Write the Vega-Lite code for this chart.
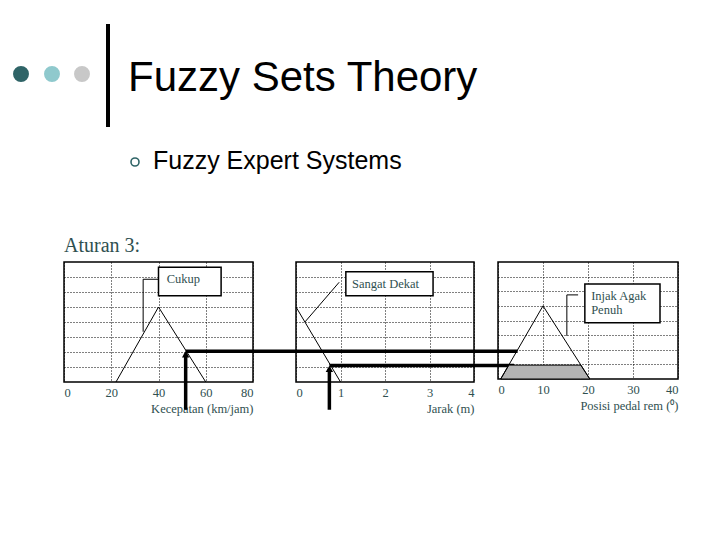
{
  "$schema": "https://vega.github.io/schema/vega-lite/v6.json",
  "background": "white",
  "padding": 0,
  "bounds": "flush",
  "spacing": 6,
  "config": {
    "view": {"stroke": null},
    "axis": {
      "grid": true,
      "gridDash": [1, 2],
      "gridColor": "#000000",
      "gridOpacity": 1,
      "gridWidth": 1,
      "domain": false,
      "ticks": false,
      "labelFont": "Liberation Serif",
      "labelFontSize": 12.5,
      "labelColor": "#2f5050",
      "labelPadding": 4,
      "titleFont": "Liberation Serif",
      "titleFontSize": 12.5,
      "titleFontWeight": "normal",
      "titleColor": "#2f5050",
      "titlePadding": 4
    }
  },
  "vconcat": [
    {
      "width": 720,
      "height": 256,
      "encoding": {
        "x": {"field": "x", "type": "quantitative", "scale": {"domain": [0, 720], "nice": false, "zero": false}, "axis": null},
        "y": {"field": "y", "type": "quantitative", "scale": {"domain": [0, 256], "nice": false, "reverse": true}, "axis": null}
      },
      "layer": [
        {
          "data": {"values": [{"x": 108, "y": 24, "y2": 127}]},
          "mark": {"type": "rule", "color": "black", "strokeWidth": 4},
          "encoding": {"y2": {"field": "y2"}}
        },
        {
          "data": {"values": [{"x": 21, "y": 74, "dot": "dark"}, {"x": 52, "y": 74, "dot": "mid"}, {"x": 82, "y": 74, "dot": "light"}]},
          "mark": {"type": "point", "filled": true, "opacity": 1, "size": 254, "shape": "circle"},
          "encoding": {"color": {"field": "dot", "type": "nominal", "scale": {"domain": ["dark", "mid", "light"], "range": ["#2f6467", "#8fc9cd", "#c8c8c8"]}, "legend": null}}
        },
        {
          "data": {"values": [{"x": 128, "y": 91, "text": "Fuzzy Sets Theory"}]},
          "mark": {"type": "text", "align": "left", "baseline": "alphabetic", "font": "Liberation Sans", "fontSize": 42, "color": "black"},
          "encoding": {"text": {"field": "text"}}
        },
        {
          "data": {"values": [{"x": 135, "y": 162}]},
          "mark": {"type": "point", "filled": false, "shape": "circle", "size": 64, "color": "#2f6467", "strokeWidth": 1.6, "opacity": 1}
        },
        {
          "data": {"values": [{"x": 153, "y": 169, "text": "Fuzzy Expert Systems"}]},
          "mark": {"type": "text", "align": "left", "baseline": "alphabetic", "font": "Liberation Sans", "fontSize": 25, "color": "black"},
          "encoding": {"text": {"field": "text"}}
        },
        {
          "data": {"values": [{"x": 64, "y": 252, "text": "Aturan 3:"}]},
          "mark": {"type": "text", "align": "left", "baseline": "alphabetic", "font": "Liberation Serif", "fontSize": 20, "color": "#2f5050"},
          "encoding": {"text": {"field": "text"}}
        }
      ]
    },
    {
      "hconcat": [
        {
          "width": 21,
          "height": 120,
          "data": {"values": []},
          "mark": "point"
        },
        {
          "width": 189,
          "height": 120,
          "view": {"stroke": "black", "strokeWidth": 1.5},
          "encoding": {
            "x": {"field": "x", "type": "quantitative", "scale": {"domain": [0, 80], "nice": false, "zero": false}, "axis": {"values": [0, 20, 40, 60, 80], "title": "Kecepatan (km/jam)", "titleAnchor": "end"}},
            "y": {"field": "mu", "type": "quantitative", "scale": {"domain": [0, 1.6], "nice": false}, "axis": {"values": [0.2, 0.4, 0.6, 0.8, 1, 1.2, 1.4], "labels": false, "title": null}}
          },
          "layer": [
            {
              "data": {"values": [{"x": 22, "mu": 0}, {"x": 40, "mu": 1}, {"x": 60, "mu": 0}]},
              "mark": {"type": "line", "color": "black", "strokeWidth": 1}
            },
            {
              "data": {"values": [{"i": 1, "x": 40, "mu": 1.37}, {"i": 2, "x": 33.5, "mu": 1.37}, {"i": 3, "x": 33.5, "mu": 0.67}]},
              "mark": {"type": "line", "color": "black", "strokeWidth": 1},
              "encoding": {"order": {"field": "i"}}
            },
            {
              "data": {"values": [{"x": 40, "x2": 66.5, "mu": 1.15, "mu2": 1.53}]},
              "mark": {"type": "rect", "fill": "white", "stroke": "black", "strokeWidth": 1.5},
              "encoding": {"x2": {"field": "x2"}, "y2": {"field": "mu2"}}
            },
            {
              "data": {"values": [{"x": 43.5, "mu": 1.37, "label": "Cukup"}]},
              "mark": {"type": "text", "align": "left", "baseline": "middle", "font": "Liberation Serif", "fontSize": 12.5, "color": "#2f5050"},
              "encoding": {"text": {"field": "label"}}
            },
            {
              "data": {"values": [{"x": 51.5, "x2": 51.5, "mu": -0.37, "mu2": 0.38}, {"x": 51.5, "x2": 192, "mu": 0.41, "mu2": 0.41}]},
              "mark": {"type": "rule", "color": "black", "strokeWidth": 3.5},
              "encoding": {"x2": {"field": "x2"}, "y2": {"field": "mu2"}}
            },
            {
              "data": {"values": [{"x": 51.5, "mu": 0.37}]},
              "mark": {"type": "point", "shape": "triangle-up", "filled": true, "opacity": 1, "size": 55, "color": "black"}
            }
          ]
        },
        {
          "spacing": 24,
          "bounds": "flush",
          "hconcat": [
            {
              "width": 178,
              "height": 120,
              "view": {"stroke": "black", "strokeWidth": 1.5},
              "encoding": {
                "x": {"field": "x", "type": "quantitative", "scale": {"domain": [0, 4], "nice": false, "zero": false}, "axis": {"values": [0, 1, 2, 3, 4], "title": "Jarak (m)", "titleAnchor": "end"}},
                "y": {"field": "mu", "type": "quantitative", "scale": {"domain": [0, 1.6], "nice": false}, "axis": {"values": [0.2, 0.4, 0.6, 0.8, 1, 1.2, 1.4], "labels": false, "title": null}}
              },
              "layer": [
                {
                  "data": {"values": [{"x": 0, "mu": 1}, {"x": 1, "mu": 0}]},
                  "mark": {"type": "line", "color": "black", "strokeWidth": 1}
                },
                {
                  "data": {"values": [{"x": 0.2, "x2": 0.97, "mu": 0.8, "mu2": 1.33}]},
                  "mark": {"type": "rule", "color": "black", "strokeWidth": 1},
                  "encoding": {"x2": {"field": "x2"}, "y2": {"field": "mu2"}}
                },
                {
                  "data": {"values": [{"x": 1.12, "x2": 3.08, "mu": 1.15, "mu2": 1.47}]},
                  "mark": {"type": "rect", "fill": "white", "stroke": "black", "strokeWidth": 1.5},
                  "encoding": {"x2": {"field": "x2"}, "y2": {"field": "mu2"}}
                },
                {
                  "data": {"values": [{"x": 1.26, "mu": 1.31, "label": "Sangat Dekat"}]},
                  "mark": {"type": "text", "align": "left", "baseline": "middle", "font": "Liberation Serif", "fontSize": 12.5, "color": "#2f5050"},
                  "encoding": {"text": {"field": "label"}}
                },
                {
                  "data": {"values": [{"x": 0.75, "x2": 0.75, "mu": -0.37, "mu2": 0.18}, {"x": 0.75, "x2": 4.9, "mu": 0.22, "mu2": 0.22}]},
                  "mark": {"type": "rule", "color": "black", "strokeWidth": 3.5},
                  "encoding": {"x2": {"field": "x2"}, "y2": {"field": "mu2"}}
                },
                {
                  "data": {"values": [{"x": 0.75, "mu": 0.175}]},
                  "mark": {"type": "point", "shape": "triangle-up", "filled": true, "opacity": 1, "size": 55, "color": "black"}
                }
              ]
            },
            {
              "width": 180,
              "height": 117,
              "view": {"stroke": "black", "strokeWidth": 1.5},
              "encoding": {
                "x": {"field": "x", "type": "quantitative", "scale": {"domain": [0, 40], "nice": false, "zero": false}, "axis": {"values": [0, 10, 20, 30, 40], "title": "Posisi pedal rem (⁰)", "titleAnchor": "end"}},
                "y": {"field": "mu", "type": "quantitative", "scale": {"domain": [0, 1.6], "nice": false}, "axis": {"values": [0.2, 0.4, 0.6, 0.8, 1, 1.2, 1.4], "labels": false, "title": null}}
              },
              "layer": [
                {
                  "data": {"values": [{"x": 0.6, "mu": 0}, {"x": 2.4, "mu": 0.19}, {"x": 18.4, "mu": 0.19}, {"x": 20.4, "mu": 0}]},
                  "mark": {"type": "area", "fill": "#b4b4b4", "stroke": "black", "strokeWidth": 1, "opacity": 1}
                },
                {
                  "data": {"values": [{"x": 0.6, "mu": 0}, {"x": 10, "mu": 1}, {"x": 20.4, "mu": 0}]},
                  "mark": {"type": "line", "color": "black", "strokeWidth": 1}
                },
                {
                  "data": {"values": [{"i": 1, "x": 17.8, "mu": 1.15}, {"i": 2, "x": 15.3, "mu": 1.15}, {"i": 3, "x": 15.3, "mu": 0.59}]},
                  "mark": {"type": "line", "color": "black", "strokeWidth": 1},
                  "encoding": {"order": {"field": "i"}}
                },
                {
                  "data": {"values": [{"x": 19.3, "x2": 36, "mu": 0.77, "mu2": 1.3}]},
                  "mark": {"type": "rect", "fill": "white", "stroke": "black", "strokeWidth": 1.5},
                  "encoding": {"x2": {"field": "x2"}, "y2": {"field": "mu2"}}
                },
                {
                  "data": {"values": [{"x": 20.7, "mu": 1.14, "label": "Injak Agak"}, {"x": 20.7, "mu": 0.95, "label": "Penuh"}]},
                  "mark": {"type": "text", "align": "left", "baseline": "middle", "font": "Liberation Serif", "fontSize": 12.5, "color": "#2f5050"},
                  "encoding": {"text": {"field": "label"}}
                }
              ]
            }
          ]
        }
      ],
      "spacing": 43,
      "bounds": "flush"
    }
  ]
}
